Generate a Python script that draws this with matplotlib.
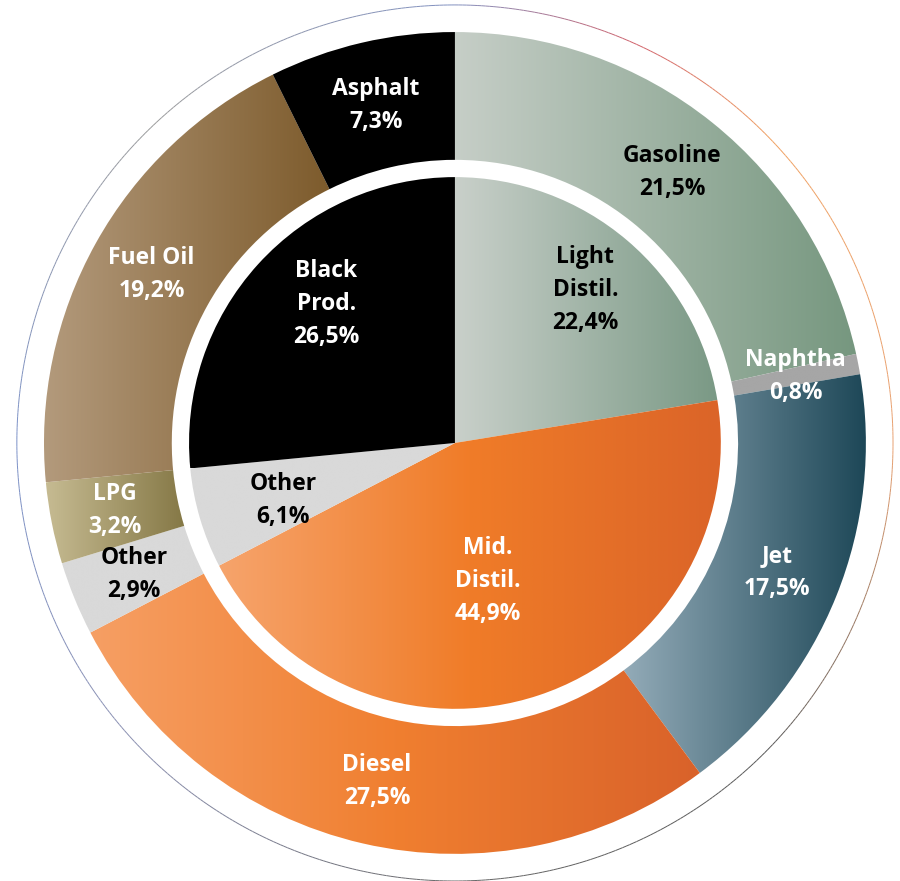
import numpy as np
import matplotlib.pyplot as plt
from matplotlib.colors import LinearSegmentedColormap
from matplotlib.collections import LineCollection

# outer ring: products
outer_labels = ['Gasoline', 'Naphtha', 'Jet', 'Diesel', 'Other', 'LPG', 'Fuel Oil', 'Asphalt']
outer_values = [21.5, 0.8, 17.5, 27.5, 2.9, 3.2, 19.2, 7.3]

# inner pie: product groups
inner_labels = ['Light\nDistil.', 'Mid.\nDistil.', 'Other', 'Black\nProd.']
inner_values = [22.4, 44.9, 6.1, 26.5]

# colours of the horizontal gradient in every wedge, left to right
outer_colors = [('#c6cec7', '#76977f'), ('#a6a6a6', '#a6a6a6'), ('#93abb8', '#1d4757'),
                ('#f69f64', '#f07f30', '#d9622a'), ('#d9d9d9', '#d9d9d9'),
                ('#c6bb92', '#857846'), ('#b39a7c', '#7d5b2c'), ('#000000', '#000000')]
outer_text = ['black', 'white', 'white', 'white', 'black', 'white', 'white', 'white']
inner_colors = [('#c9d0ca', '#7a9985'), ('#f6a46c', '#f07c28', '#db6428'),
                ('#d9d9d9', '#d9d9d9'), ('#000000', '#000000')]
inner_text = ['black', 'white', 'black', 'white']
inner_label_r = [0.49, 0.345, 0.44, 0.46]
inner_label_da = [0, -5, 2, -5]

R_OUT = 1.0
RING_W = 0.311
R_IN = 0.647

plt.rcParams['font.family'] = ['Open Sans', 'DejaVu Sans']


def fill_gradient(ax, wedge, colors):
    wedge.set_facecolor('none')
    wedge.set_edgecolor('none')
    bb = wedge.get_path().get_extents()
    cmap = LinearSegmentedColormap.from_list('g', list(colors))
    im = ax.imshow(np.linspace(0, 1, 256).reshape(1, -1), cmap=cmap,
                   extent=(bb.x0, bb.x1, bb.y0, bb.y1), aspect='auto',
                   interpolation='bilinear', zorder=1)
    im.set_clip_path(wedge)


def pct(v):
    return f"{v:.1f}%".replace('.', ',')


fig = plt.figure(figsize=(9, 8.81), dpi=100)
ax = fig.add_axes([0, 0, 1, 1])

outer_w, _ = ax.pie(outer_values, radius=R_OUT, startangle=90, counterclock=False,
                    wedgeprops=dict(width=RING_W, linewidth=0))
inner_w, _ = ax.pie(inner_values, radius=R_IN, startangle=90, counterclock=False,
                    wedgeprops=dict(linewidth=0))

for w, c in zip(outer_w, outer_colors):
    fill_gradient(ax, w, c)
for w, c in zip(inner_w, inner_colors):
    fill_gradient(ax, w, c)

style = dict(ha='center', va='center', fontsize=16.5, fontweight='bold',
             linespacing=1.5, zorder=5)

for w, lab, v, col in zip(outer_w, outer_labels, outer_values, outer_text):
    a = np.deg2rad((w.theta1 + w.theta2) / 2)
    r = w.r - w.width / 2
    ax.text(r * np.cos(a), r * np.sin(a), lab + '\n' + pct(v), color=col, **style)

for w, lab, v, col, r, da in zip(inner_w, inner_labels, inner_values, inner_text,
                                 inner_label_r, inner_label_da):
    a = np.deg2rad((w.theta1 + w.theta2) / 2 + da)
    ax.text(r * np.cos(a), r * np.sin(a), lab + '\n' + pct(v), color=col, **style)

# thin multicoloured frame circle
t = np.linspace(0, 2 * np.pi, 721)
pts = np.column_stack([1.066 * np.cos(t), 1.066 * np.sin(t)]).reshape(-1, 1, 2)
segs = np.concatenate([pts[:-1], pts[1:]], axis=1)
ring_cmap = LinearSegmentedColormap.from_list(
    'frame', [(0.0, '#e8a070'), (0.12, '#f0a060'), (0.18, '#d0606a'), (0.25, '#8090c0'),
              (0.37, '#9a9a9a'), (0.5, '#7a90c8'), (0.62, '#8a8fb0'), (0.75, '#666666'),
              (0.88, '#555555'), (1.0, '#e8a070')])
lc = LineCollection(segs, cmap=ring_cmap, linewidth=0.7, zorder=0)
lc.set_array(np.linspace(0, 1, len(segs)))
ax.add_collection(lc)

ax.set_aspect('auto')
ax.set_xlim(-1.107, 1.083)
ax.set_ylim(-1.066, 1.078)
ax.axis('off')

fig.savefig('out.png', dpi=100)
